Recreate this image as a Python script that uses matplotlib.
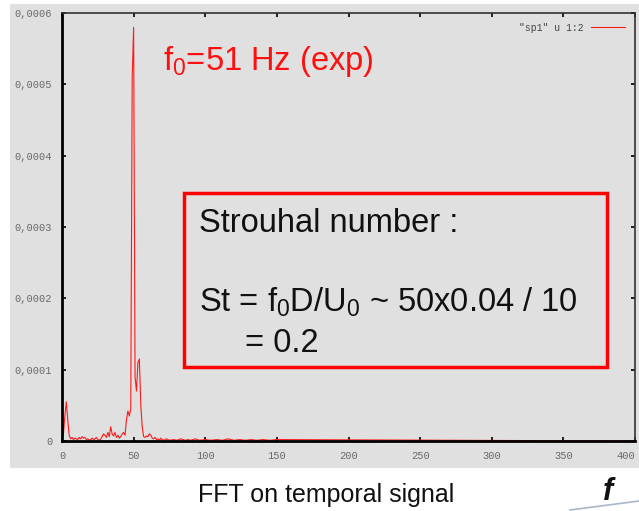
import numpy as np
import matplotlib
matplotlib.use("Agg")
import matplotlib.pyplot as plt
from matplotlib.patches import Rectangle
from matplotlib.lines import Line2D

plt.rcParams['mathtext.fontset'] = 'custom'
plt.rcParams['mathtext.rm'] = 'Liberation Sans'
plt.rcParams['mathtext.it'] = 'Liberation Sans:italic'

# spectrum (amplitude in units of 1e-4)
freq_low = list(range(0, 71))
amp_low = [0.02, 0.10, 0.35, 0.55, 0.30, 0.08, 0.03, 0.05, 0.02, 0.04,
           0.03, 0.02, 0.05, 0.03, 0.06, 0.04, 0.05, 0.02, 0.03, 0.01,
           0.02, 0.04, 0.02, 0.03, 0.05, 0.02, 0.01, 0.03, 0.06, 0.10,
           0.08, 0.05, 0.12, 0.06, 0.20, 0.10, 0.07, 0.12, 0.05, 0.08,
           0.04, 0.06, 0.10, 0.12, 0.08, 0.30, 0.42, 0.35, 0.45, 5.10,
           5.80, 0.90, 0.70, 1.10, 1.15, 0.50, 0.20, 0.06, 0.05, 0.07,
           0.06, 0.10, 0.08, 0.04, 0.03, 0.05, 0.02, 0.03, 0.01, 0.04,
           0.02]
freq_tail = [71, 73, 75, 78, 80, 83, 86, 88, 90, 93, 96, 100, 104, 108,
             112, 116, 120, 124, 128, 132, 136, 140, 145, 150, 400]
amp_tail = [0.01, 0.03, 0.01, 0.02, 0.01, 0.03, 0.01, 0.02, 0.01, 0.03,
            0.01, 0.02, 0.01, 0.02, 0.01, 0.03, 0.01, 0.02, 0.01, 0.02,
            0.01, 0.02, 0.01, 0.02, 0.0]

xticks = [0, 50, 100, 150, 200, 250, 300, 350, 400]
xlabels = ["0", "50", "100", "150", "200", "250", "300", "350", "400"]
yticks = [0, 0.0001, 0.0002, 0.0003, 0.0004, 0.0005, 0.0006]
ylabels = ["0", "0,0001", "0,0002", "0,0003", "0,0004", "0,0005", "0,0006"]

f = np.array(freq_low + freq_tail)
a = np.array(amp_low + amp_tail) * 1e-4

W, H = 639, 511
fig = plt.figure(figsize=(W / 100, H / 100), dpi=100)
fig.patch.set_facecolor('white')

def fx(px):
    return px / W

def fy(py):
    return 1 - py / H

gray = '#e0e0e0'
fig.patches.append(Rectangle((fx(10), fy(468)), 1 - fx(10), fy(4) - fy(468),
                             transform=fig.transFigure, facecolor=gray,
                             edgecolor='none', zorder=-5))

ax = fig.add_axes([fx(62), fy(441), fx(635) - fx(62), fy(13) - fy(441)])
ax.set_facecolor(gray)
ax.plot(f, a, color='#ff1a1a', lw=0.8, label='"sp1" u 1:2')
ax.set_xlim(0, 400)
ax.set_ylim(0, 0.0006)
ax.set_xticks(xticks)
ax.set_xticklabels(xlabels)
ax.set_yticks(yticks)
ax.set_yticklabels(ylabels)
ax.tick_params(direction='in', length=3, width=1.2, top=True, right=True,
               labelsize=7.5, labelcolor='#6a6a6a', pad=7)
for lab in ax.get_xticklabels() + ax.get_yticklabels():
    lab.set_family('Liberation Mono')
ax.get_xticklabels()[-1].set_horizontalalignment('right')
for s in ['left', 'bottom']:
    ax.spines[s].set_linewidth(2)
for s in ['top', 'right']:
    ax.spines[s].set_linewidth(1.2)
ax.spines['top'].set_color('#333333')
ax.spines['right'].set_color('#333333')

leg = ax.legend(loc='upper right', frameon=False, fontsize=7,
                handlelength=3.5, borderaxespad=0.6, markerfirst=False,
                prop={'family': 'Liberation Mono', 'size': 7})
for t in leg.get_texts():
    t.set_color('#444444')

sans = 'Liberation Sans'
big = 23.5
fig.text(fx(163), fy(70), r'f$_0$=51 Hz (exp)', color='#ff1010',
         fontsize=big, family=sans, va='baseline')

fig.patches.append(Rectangle((fx(184), fy(367)), fx(607) - fx(184), fy(193) - fy(367),
                             transform=fig.transFigure, fill=False,
                             edgecolor='#ff0000', lw=2.5, zorder=5))
fig.text(fx(199), fy(232), 'Strouhal number :', fontsize=big, family=sans,
         va='baseline', color='#111111')
fig.text(fx(199), fy(312), r'St = f$_0$D/U$_0$ ~ 50x0.04 / 10', fontsize=big,
         family=sans, va='baseline', color='#111111')
fig.text(fx(245), fy(352), '= 0.2', fontsize=big, family=sans,
         va='baseline', color='#111111')

fig.text(fx(198), fy(502), 'FFT on temporal signal', fontsize=18, family=sans,
         va='baseline', color='#111111')
fig.text(fx(603), fy(500), 'f', fontsize=22, family=sans, style='italic',
         weight='bold', va='baseline', color='#111111')
fig.lines.append(Line2D([fx(570), 1], [fy(510), fy(501)], transform=fig.transFigure,
                        color='#a8b8c8', lw=1.2))

fig.savefig('out.png', dpi=100)
